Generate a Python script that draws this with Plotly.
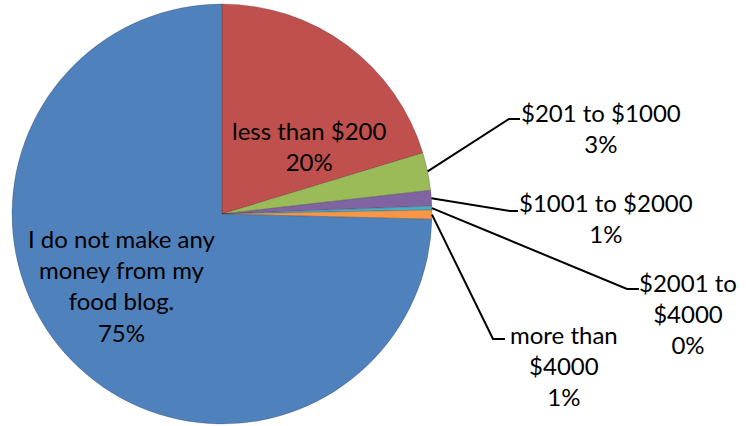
import math
import plotly.graph_objects as go

# Survey: income earned from a food blog (share of respondents, %)
categories = [
    "less than $200",
    "$201 to $1000",
    "$1001 to $2000",
    "$2001 to $4000",
    "more than $4000",
    "I do not make any money from my food blog.",
]
wrapped_labels = [
    "less than $200",
    "$201 to $1000",
    "$1001 to $2000",
    "$2001 to<br>$4000",
    "more than<br>$4000",
    "I do not make any<br>money from my<br>food blog.",
]
shares = [20.3, 2.9, 1.2, 0.3, 0.7, 74.6]
colors = ["#C0504D", "#9BBB59", "#8064A2", "#4BACC6", "#F79646", "#4F81BD"]

W, H = 746, 426
CX, CY, R = 222, 214, 210  # pie centre and radius in pixels

# label block centres (px) and leader-line elbows for the outside labels
label_pos = [(309, 146), (601, 128), (606, 218), (688, 313), (564, 365), (122, 285)]
elbows = {
    1: [(509, 119), (520, 119)],
    2: [(510, 211), (518, 211)],
    3: [(627, 289), (639, 289)],
    4: [(493, 339), (505, 339)],
}

fig = go.Figure()
fig.add_trace(go.Pie(
    values=shares,
    labels=categories,
    sort=False,
    direction="clockwise",
    rotation=0,
    marker=dict(colors=colors, line=dict(color="rgba(40,40,40,0.3)", width=0.8)),
    textinfo="none",
    hoverinfo="label+percent",
    showlegend=False,
    domain=dict(x=[(CX - R) / W, (CX + R) / W], y=[(H - CY - R) / H, (H - CY + R) / H]),
))

total = sum(shares)
px = lambda x: x / W
py = lambda y: 1 - y / H

annotations = []
shapes = []
cum = 0.0
for i, v in enumerate(shares):
    mid = (cum + v / 2) / total * 2 * math.pi
    cum += v
    text = f"{wrapped_labels[i]}<br>{round(v / total * 100)}%"
    lx, ly = label_pos[i]
    annotations.append(dict(
        x=px(lx), y=py(ly), xref="paper", yref="paper",
        text=text, showarrow=False, xanchor="center", yanchor="middle",
        align="center", font=dict(family="Lato", size=24, color="black"),
    ))
    if i in elbows:
        ax = CX + R * math.sin(mid)
        ay = CY - R * math.cos(mid)
        pts = [(ax, ay)] + elbows[i]
        path = "M " + " L ".join(f"{px(x):.5f} {py(y):.5f}" for x, y in pts)
        shapes.append(dict(type="path", path=path, xref="paper", yref="paper",
                           line=dict(color="black", width=2)))

fig.update_layout(
    width=W, height=H,
    margin=dict(l=0, r=0, t=0, b=0),
    paper_bgcolor="white",
    plot_bgcolor="white",
    annotations=annotations,
    shapes=shapes,
)

fig.write_html("out.html")
